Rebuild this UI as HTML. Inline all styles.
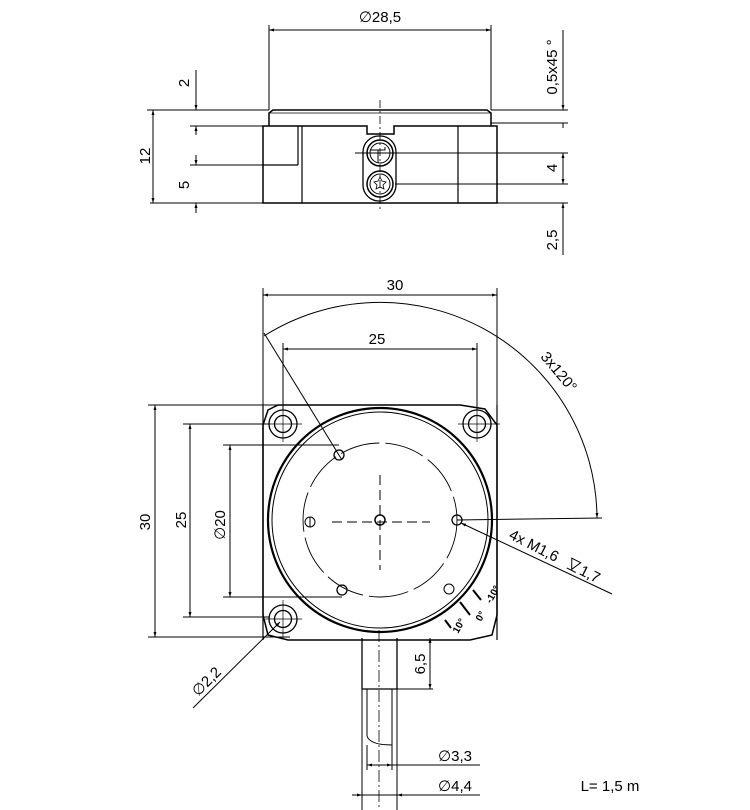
<!DOCTYPE html>
<html><head><style>body{margin:0;background:#fff}svg{display:block}text{font-family:"Liberation Sans",sans-serif;font-size:15px;fill:#000}</style></head><body>
<svg width="750" height="810" viewBox="0 0 750 810" xmlns="http://www.w3.org/2000/svg">
<defs><marker id="a" viewBox="0 0 10 10" refX="10" refY="5" markerWidth="9" markerHeight="5" orient="auto-start-reverse"><path d="M0,2 L10,5 L0,8z" fill="#000"/></marker></defs>
<g stroke="#000" fill="none" stroke-width="1">
<path d="M269,126 L269,113 L273,110 L487,110 L491,113 L491,126" stroke-width="1.5"/>
<line x1="269" y1="113" x2="491" y2="113" stroke-width="0.7"/>
<path d="M263,126 H367 V134 H394 V126 H497 V203 H263 Z" stroke-width="1.5"/>
<line x1="302" y1="126" x2="302" y2="203" stroke-width="1.2"/>
<line x1="298" y1="126" x2="298" y2="165" stroke-width="1.2"/>
<line x1="263" y1="165" x2="298" y2="165" stroke-width="1.2"/>
<line x1="458" y1="126" x2="458" y2="203" stroke-width="1.2"/>
<rect x="363" y="136" width="33" height="65" rx="16" stroke-width="1.3"/>
<circle cx="380" cy="153" r="13" stroke-width="1.5"/><circle cx="380" cy="153" r="10"/>
<path d="M370,150 H385 V147 M378,150 V163"/>
<circle cx="380" cy="184" r="13" stroke-width="1.5"/><circle cx="380" cy="184" r="10"/>
<path d="M380,177 l2,4 4,1 -3,3 1,4 -4,-2 -4,2 1,-4 -3,-3 4,-1z" stroke-width="0.8"/>
<line x1="380" y1="100" x2="380" y2="210" stroke-dasharray="8,3,2,3" stroke-width="0.8"/>
<line x1="269" y1="25" x2="269" y2="110"/><line x1="491" y1="25" x2="491" y2="110"/>
<line x1="269" y1="30" x2="491" y2="30" marker-start="url(#a)" marker-end="url(#a)"/>
<line x1="147" y1="110" x2="269" y2="110"/><line x1="190" y1="126" x2="263" y2="126"/>
<line x1="190" y1="165" x2="263" y2="165"/><line x1="150" y1="203" x2="263" y2="203"/>
<line x1="153" y1="110" x2="153" y2="203" marker-start="url(#a)" marker-end="url(#a)"/>
<line x1="196" y1="70" x2="196" y2="110" marker-end="url(#a)"/><line x1="196" y1="126" x2="196" y2="135" marker-start="url(#a)"/>
<line x1="196" y1="155" x2="196" y2="165" marker-end="url(#a)"/><line x1="196" y1="203" x2="196" y2="213" marker-start="url(#a)"/>
<line x1="491" y1="110" x2="568" y2="110"/><line x1="491" y1="123" x2="568" y2="123"/>
<line x1="563" y1="30" x2="563" y2="110" marker-end="url(#a)"/><line x1="563" y1="123" x2="563" y2="128" />
<line x1="355" y1="153" x2="568" y2="153"/><line x1="395" y1="184" x2="568" y2="184"/><line x1="497" y1="203" x2="568" y2="203"/>
<line x1="563" y1="153" x2="563" y2="184" marker-start="url(#a)" marker-end="url(#a)"/>
<line x1="563" y1="203" x2="563" y2="255" marker-start="url(#a)"/>
<path d="M278,405 H460 L485,409 L497,425 V615 L492,635 L470,640 H288 L268,635 L263,615 V425 L268,410 Z" stroke-width="1.5"/>
<line x1="263" y1="405" x2="263" y2="640" stroke-width="1.2"/>
<line x1="497" y1="405" x2="497" y2="640" stroke-width="1.2"/>
<circle cx="283" cy="424" r="14" stroke-width="1.3"/><circle cx="283" cy="424" r="8.5" stroke-width="1.3"/>
<circle cx="477" cy="424" r="14" stroke-width="1.3"/><circle cx="477" cy="424" r="8.5" stroke-width="1.3"/>
<circle cx="283" cy="619" r="14" stroke-width="1.3"/><circle cx="283" cy="619" r="8.5" stroke-width="1.3"/>
<circle cx="380" cy="520" r="112" stroke-width="2.2"/><circle cx="380" cy="520" r="108" stroke-width="1"/>
<circle cx="380" cy="520" r="77" stroke-dasharray="40,6" stroke-width="0.9"/>
<circle cx="339" cy="455" r="5" stroke-width="1.3"/><circle cx="457" cy="520" r="5" stroke-width="1.3"/>
<circle cx="342" cy="590" r="5" stroke-width="1.3"/><circle cx="380" cy="520" r="5" stroke-width="1.5"/>
<circle cx="310" cy="522" r="5"/><line x1="310" y1="517" x2="310" y2="527"/>
<circle cx="449" cy="589" r="5"/>
<line x1="332" y1="522" x2="430" y2="522" stroke-dasharray="10,5" stroke-width="1"/>
<line x1="380" y1="475" x2="380" y2="570" stroke-dasharray="10,5" stroke-width="1"/>
<line x1="445" y1="620" x2="451" y2="628" stroke-width="2"/><line x1="460" y1="602" x2="470" y2="615" stroke-width="2"/><line x1="473" y1="590" x2="481" y2="600" stroke-width="2"/>
<line x1="265" y1="424" x2="302" y2="424" stroke-width="0.7"/><line x1="283" y1="406" x2="283" y2="442" stroke-width="0.7"/>
<line x1="458" y1="424" x2="500" y2="424" stroke-width="0.7"/><line x1="477" y1="406" x2="477" y2="442" stroke-width="0.7"/>
<line x1="265" y1="619" x2="302" y2="619" stroke-width="0.7"/><line x1="283" y1="600" x2="283" y2="638" stroke-width="0.7"/>
<path d="M362,638 V689 H397 V638" stroke-width="1.3"/>
<line x1="362" y1="689" x2="362" y2="810"/><line x1="397" y1="689" x2="397" y2="810"/>
<path d="M367,689 V736 Q370,745 392,745 V689" stroke-width="1"/>
<line x1="367" y1="745" x2="367" y2="770"/><line x1="392" y1="745" x2="392" y2="770"/>
<line x1="379" y1="630" x2="379" y2="810" stroke-dasharray="12,3,2,3" stroke-width="0.8"/>
<line x1="263" y1="288" x2="263" y2="405"/><line x1="497" y1="288" x2="497" y2="405"/>
<line x1="263" y1="295" x2="497" y2="295" marker-start="url(#a)" marker-end="url(#a)"/>
<line x1="283" y1="343" x2="283" y2="410"/><line x1="477" y1="343" x2="477" y2="410"/>
<line x1="283" y1="349" x2="477" y2="349" marker-start="url(#a)" marker-end="url(#a)"/>
<line x1="148" y1="405" x2="278" y2="405"/><line x1="148" y1="637" x2="290" y2="637"/>
<line x1="155" y1="405" x2="155" y2="637" marker-start="url(#a)" marker-end="url(#a)"/>
<line x1="183" y1="424" x2="270" y2="424"/><line x1="183" y1="617" x2="270" y2="617"/>
<line x1="190" y1="424" x2="190" y2="617" marker-start="url(#a)" marker-end="url(#a)"/>
<line x1="223" y1="445" x2="339" y2="445"/><line x1="223" y1="597" x2="342" y2="597"/>
<line x1="230" y1="445" x2="230" y2="597" marker-start="url(#a)" marker-end="url(#a)"/>
<line x1="264" y1="333" x2="342" y2="460"/>
<path d="M264,336 A217,217 0 0 1 597,518" marker-end="url(#a)"/>
<line x1="457" y1="520" x2="602" y2="518"/>
<line x1="612" y1="594" x2="461" y2="523" marker-end="url(#a)"/>
<line x1="193" y1="708" x2="280" y2="622" marker-end="url(#a)"/>
<line x1="397" y1="689" x2="433" y2="689"/>
<line x1="430" y1="638" x2="430" y2="689" marker-start="url(#a)" marker-end="url(#a)"/>
<line x1="367" y1="765" x2="480" y2="765"/><line x1="367" y1="765" x2="379" y2="765" marker-start="url(#a)"/><line x1="380" y1="765" x2="392" y2="765" marker-end="url(#a)"/>
<line x1="352" y1="795" x2="480" y2="795"/><line x1="352" y1="795" x2="362" y2="795" marker-end="url(#a)"/><line x1="407" y1="795" x2="397" y2="795" marker-end="url(#a)"/>
</g>
<text x="380" y="22" text-anchor="middle">∅28,5</text>
<text transform="translate(189,83) rotate(-90)" text-anchor="middle">2</text>
<text transform="translate(150,156) rotate(-90)" text-anchor="middle">12</text>
<text transform="translate(189,185) rotate(-90)" text-anchor="middle">5</text>
<text transform="translate(557,67) rotate(-90)" text-anchor="middle">0,5x45 °</text>
<text transform="translate(557,168) rotate(-90)" text-anchor="middle">4</text>
<text transform="translate(557,240) rotate(-90)" text-anchor="middle">2,5</text>
<text x="395" y="290" text-anchor="middle">30</text>
<text x="377" y="344" text-anchor="middle">25</text>
<text transform="translate(150,522) rotate(-90)" text-anchor="middle">30</text>
<text transform="translate(186,520) rotate(-90)" text-anchor="middle">25</text>
<text transform="translate(225,525) rotate(-90)" text-anchor="middle">∅20</text>
<text transform="translate(555,375) rotate(50)" text-anchor="middle">3x120°</text>
<g transform="translate(508,538) rotate(27)">
<text x="0" y="0">4x M1,6</text>
<path d="M66,-11 L76,-11 L71,-1 Z M66,0 H76" stroke="#000" fill="none" stroke-width="1"/>
<text x="79" y="0">1,7</text>
</g>
<text transform="translate(210,685) rotate(-45)" text-anchor="middle">∅2,2</text>
<text transform="translate(425,664) rotate(-90)" text-anchor="middle">6,5</text>
<text x="455" y="761" text-anchor="middle">∅3,3</text>
<text x="455" y="791" text-anchor="middle">∅4,4</text>
<text x="610" y="791" text-anchor="middle">L= 1,5 m</text>
<text transform="translate(458,634) rotate(-60)" style="font-size:10px;font-weight:bold">10°</text>
<text transform="translate(481,622) rotate(-60)" style="font-size:10px;font-weight:bold">0°</text>
<text transform="translate(491,604) rotate(-60)" style="font-size:10px;font-weight:bold">-10°</text>
</svg>
</body></html>
